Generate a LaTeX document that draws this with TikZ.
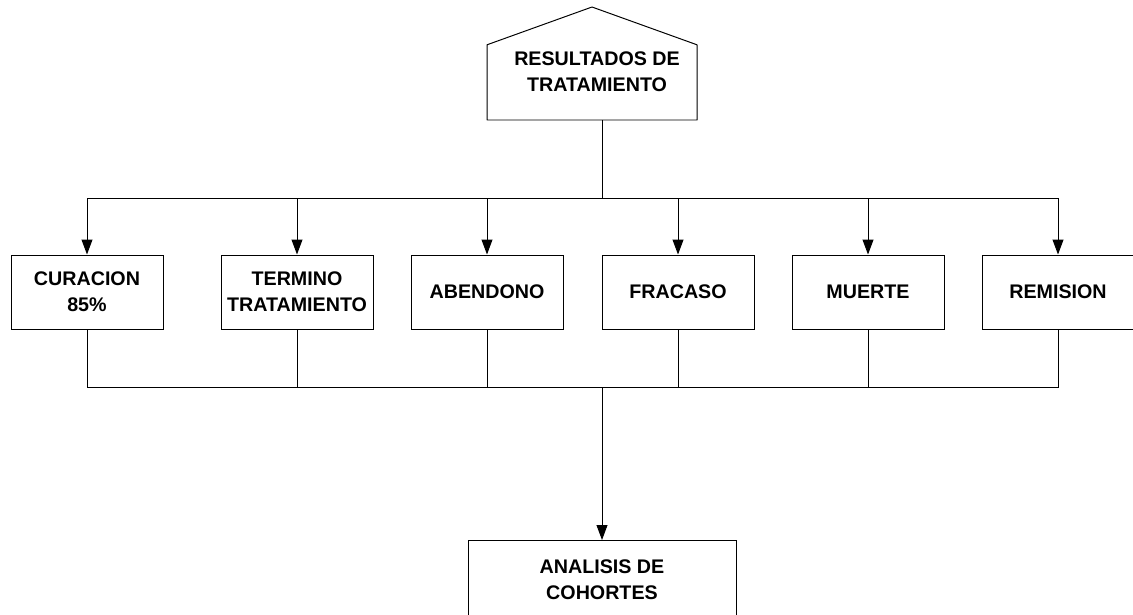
\documentclass[tikz,border=0pt]{standalone}
\usepackage{fontspec}
\setmainfont{Liberation Sans}
\usepackage{xcolor}
\usepackage{tkz-base}
\usepackage{tkz-euclide}
\usetikzlibrary{arrows.meta,positioning}

\tikzset{
  caja/.style={draw, line width=0.7pt, minimum width=3.8cm, minimum height=1.85cm,
               inner sep=1pt, align=center,
               font=\fontsize{14}{18.5}\selectfont\bfseries},
  texto/.style={align=center, font=\fontsize{14}{18.5}\selectfont\bfseries},
  linea/.style={line width=0.7pt},
  flecha/.style={line width=0.7pt, -{Triangle[length=3.7mm,width=2.7mm]}}
}

\begin{document}
\begin{tikzpicture}
        \useasboundingbox (0,0) rectangle (28.325,-15.35);

        % Paso 1: Define los puntos de la casita superior
        \tkzDefPoint(12.175,-3.0){P}
        \tkzDefPoint(17.425,-3.0){Q}
        \tkzDefPoint(17.425,-1.12){R}
        \tkzDefPoint(14.8,-0.175){S}
        \tkzDefPoint(12.175,-1.12){T}

        % Paso 2: Dibuja la casita y su texto
        \tkzDrawPolygon[line width=0.7pt](P,Q,R,S,T)
        \node[texto] (res) at (14.925,-1.8) {RESULTADOS DE\\TRATAMIENTO};
        \coordinate (sal) at (15.05,-3.0);
        \coordinate (bus) at (15.05,-4.95);
        \coordinate (ana) at (15.05,-9.69);

        % Paso 3: Coloca las cajas de resultados
        \node[caja] (cur) at (2.175,-7.3) {CURACION\\85\%};
        \node[caja] (ter) at (7.425,-7.3) {TERMINO\\TRATAMIENTO};
        \node[caja] (aba) at (12.175,-7.3) {ABENDONO};
        \node[caja] (fra) at (16.95,-7.3) {FRACASO};
        \node[caja] (mue) at (21.7,-7.3) {MUERTE};
        \node[caja] (rem) at (26.45,-7.3) {REMISION};

        % Paso 4: Caja inferior
        \node[caja, anchor=north, minimum width=6.7cm, minimum height=1.95cm]
            (coh) at (15.05,-13.5) {ANALISIS DE\\COHORTES};

        % Paso 5: Conectores
        \draw[linea] (sal) -- (bus);
        \draw[linea] (cur |- bus) -- (rem |- bus);
        \foreach \n in {cur,ter,aba,fra,mue,rem}{
            \draw[flecha] (\n |- bus) -- (\n);
            \draw[linea] (\n.south) -- (\n |- ana);
        }
        \draw[linea] (cur |- ana) -- (rem |- ana);
        \draw[flecha] (ana) -- (coh);
    \end{tikzpicture}
\end{document}
